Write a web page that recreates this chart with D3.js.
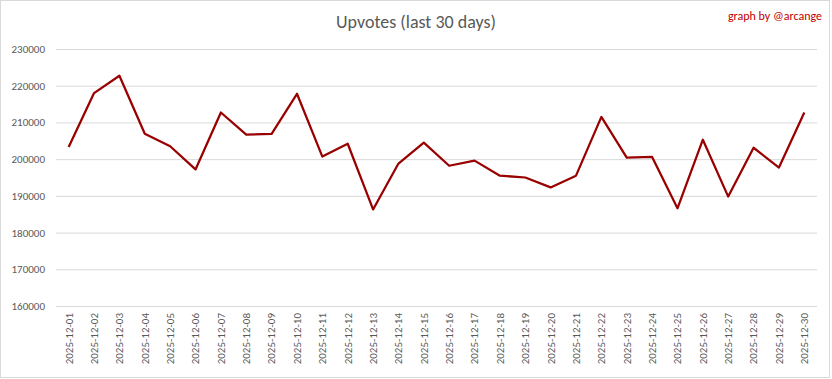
<!DOCTYPE html>
<html>
<head>
<meta charset="utf-8">
<script src="https://cdn.jsdelivr.net/npm/d3@7"></script>
<style>
  body { margin: 0; background: #fff; }
  svg text { font-family: Carlito, Calibri, "Liberation Sans", sans-serif; }
</style>
</head>
<body>
<div id="chart"></div>
<script>
// Upvotes per day, December 2025
var days = ["2025-12-01","2025-12-02","2025-12-03","2025-12-04","2025-12-05","2025-12-06","2025-12-07","2025-12-08","2025-12-09","2025-12-10",
            "2025-12-11","2025-12-12","2025-12-13","2025-12-14","2025-12-15","2025-12-16","2025-12-17","2025-12-18","2025-12-19","2025-12-20",
            "2025-12-21","2025-12-22","2025-12-23","2025-12-24","2025-12-25","2025-12-26","2025-12-27","2025-12-28","2025-12-29","2025-12-30"];
var upvotes = [203300, 218000, 222700, 206900, 203500, 197200, 212700, 206700, 206900, 217800,
               200700, 204200, 186300, 198800, 204500, 198200, 199600, 195500, 195000, 192300,
               195500, 211500, 200400, 200600, 186600, 205300, 189800, 203100, 197700, 212700];
var yTicks = [160000, 170000, 180000, 190000, 200000, 210000, 220000, 230000];

var width = 832, height = 379,
    margin = {left: 56, right: 15, top: 49, bottom: 73};

var svg = d3.select("#chart").append("svg")
    .attr("width", width)
    .attr("height", height);

// outer frame
svg.append("rect")
    .attr("x", 0.5).attr("y", 0.5)
    .attr("width", width - 3).attr("height", height - 2)
    .attr("fill", "#fff")
    .attr("stroke", "#d9d9d9");

var x = d3.scaleBand()
    .domain(days)
    .range([margin.left, width - margin.right]);

var y = d3.scaleLinear()
    .domain([160000, 230000])
    .range([height - margin.bottom, margin.top]);

// gridlines + y labels
var yAxis = svg.append("g")
    .attr("transform", "translate(" + margin.left + ",0)")
    .call(d3.axisLeft(y).tickValues(yTicks).tickFormat(d3.format("d"))
        .tickSize(-(width - margin.left - margin.right)).tickPadding(11));
yAxis.select(".domain").remove();
yAxis.selectAll("line").attr("stroke", "#d9d9d9");
yAxis.selectAll("text").attr("fill", "#595959").style("font-size", "11px");

// x labels
var xAxis = svg.append("g")
    .attr("transform", "translate(0," + (height - margin.bottom) + ")")
    .call(d3.axisBottom(x).tickSize(0));
xAxis.select(".domain").remove();
xAxis.selectAll("text")
    .attr("fill", "#595959")
    .style("font-size", "11px")
    .attr("text-anchor", "end")
    .attr("transform", "rotate(-90)")
    .attr("x", -7)
    .attr("y", 0)
    .attr("dy", "0.35em");

// line
var line = d3.line()
    .x(function(d, i) { return x(days[i]) + x.bandwidth() / 2; })
    .y(function(d) { return y(d); });

svg.append("path")
    .datum(upvotes)
    .attr("fill", "none")
    .attr("stroke", "#990000")
    .attr("stroke-width", 2.25)
    .attr("stroke-linejoin", "round")
    .attr("d", line);

// titles
svg.append("text")
    .attr("x", width / 2).attr("y", 28)
    .attr("text-anchor", "middle")
    .attr("fill", "#595959")
    .style("font-size", "18px")
    .text("Upvotes (last 30 days)");

svg.append("text")
    .attr("x", 822).attr("y", 20)
    .attr("text-anchor", "end")
    .attr("fill", "#c00000")
    .style("font-size", "12px")
    .text("graph by @arcange");
</script>
</body>
</html>
